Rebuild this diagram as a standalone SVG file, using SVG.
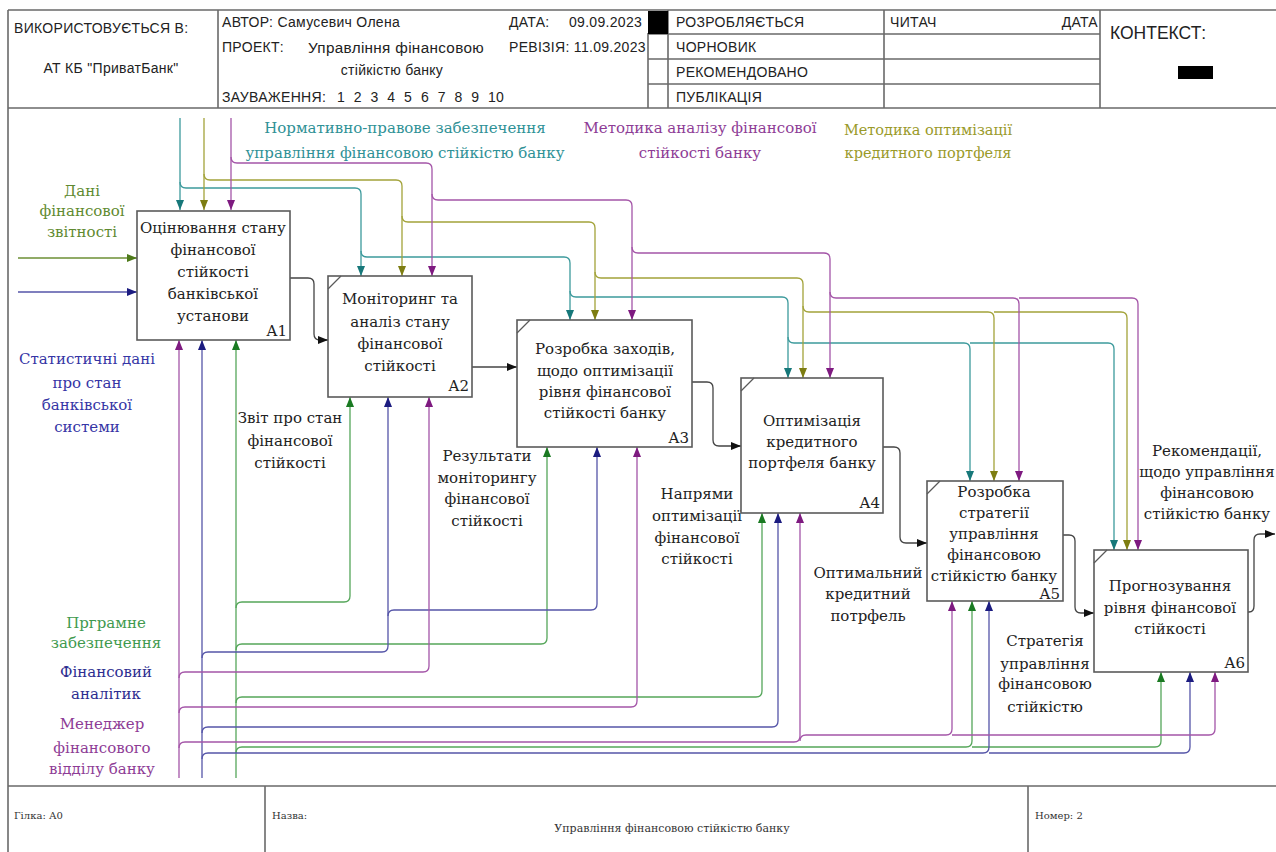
<svg xmlns="http://www.w3.org/2000/svg" width="1276" height="852" viewBox="0 0 1276 852">
<defs>
<style>
.frame{fill:none;stroke:#6a6a6a;stroke-width:1.6}
.hdr{font-family:"Liberation Sans",Arial,sans-serif;font-size:14px;letter-spacing:0.3px;fill:#222}
.ftr{font-family:"DejaVu Serif","Liberation Serif",serif;font-size:10px;fill:#333}
.box{fill:#fff;stroke:#5a5a5a;stroke-width:1.6}
.corner{stroke:#5a5a5a;stroke-width:1.2}
.nt{font-family:"DejaVu Serif","Liberation Serif",serif;font-size:15px;fill:#222;text-anchor:middle}
.nn{font-family:"DejaVu Serif","Liberation Serif",serif;font-size:15px;fill:#222;text-anchor:end}
.lb{font-family:"DejaVu Serif","Liberation Serif",serif;font-size:15px;text-anchor:middle}
.c{fill:none;stroke-width:1.3}
.teal{stroke:#3c9a9c}
.olive{stroke:#a3a33a}
.purp{stroke:#a455a8}
.navy{stroke:#5555a8}
.green{stroke:#55a65a}
.blk{stroke:#444}
.olg{stroke:#6d8f35}
</style>
<marker id="mT" viewBox="0 0 10 8" refX="10" refY="4" markerWidth="10" markerHeight="8" orient="auto" markerUnits="userSpaceOnUse"><path d="M0,0 L10,4 L0,8 z" fill="#17787a"/></marker>
<marker id="mO" viewBox="0 0 10 8" refX="10" refY="4" markerWidth="10" markerHeight="8" orient="auto" markerUnits="userSpaceOnUse"><path d="M0,0 L10,4 L0,8 z" fill="#7d7d12"/></marker>
<marker id="mP" viewBox="0 0 10 8" refX="10" refY="4" markerWidth="10" markerHeight="8" orient="auto" markerUnits="userSpaceOnUse"><path d="M0,0 L10,4 L0,8 z" fill="#7e1a80"/></marker>
<marker id="mN" viewBox="0 0 10 8" refX="10" refY="4" markerWidth="10" markerHeight="8" orient="auto" markerUnits="userSpaceOnUse"><path d="M0,0 L10,4 L0,8 z" fill="#1c1c80"/></marker>
<marker id="mG" viewBox="0 0 10 8" refX="10" refY="4" markerWidth="10" markerHeight="8" orient="auto" markerUnits="userSpaceOnUse"><path d="M0,0 L10,4 L0,8 z" fill="#1a7a22"/></marker>
<marker id="mB" viewBox="0 0 10 8" refX="10" refY="4" markerWidth="10" markerHeight="8" orient="auto" markerUnits="userSpaceOnUse"><path d="M0,0 L10,4 L0,8 z" fill="#111"/></marker>
<marker id="mL" viewBox="0 0 10 8" refX="10" refY="4" markerWidth="10" markerHeight="8" orient="auto" markerUnits="userSpaceOnUse"><path d="M0,0 L10,4 L0,8 z" fill="#4e7a1a"/></marker>
</defs>
<rect width="1276" height="852" fill="#fff"/>

<g id="header">
<path class="frame" d="M8,10 H1276 M8,10 V852 M8,108 H1276 M218,10 V108 M668,10 V108 M648,33 V108 M884,10 V108 M1100,10 V108 M648,34 H1100 M648,59 H1100 M648,84 H1100"/>
<rect x="648" y="11" width="20" height="23" fill="#000"/>
<rect x="1178" y="66" width="35" height="13" fill="#000"/>
<text class="hdr" x="14" y="33">ВИКОРИСТОВУЄТЬСЯ В:</text>
<text class="hdr" x="111" y="73" text-anchor="middle">АТ КБ "ПриватБанк"</text>
<text class="hdr" x="222" y="27">АВТОР: Самусевич Олена</text>
<text class="hdr" x="222" y="52">ПРОЕКТ:</text>
<text class="hdr" x="396" y="53" text-anchor="middle" textLength="176" lengthAdjust="spacingAndGlyphs">Управління фінансовою</text>
<text class="hdr" x="392" y="75" text-anchor="middle">стійкістю банку</text>
<text class="hdr" x="222" y="102">ЗАУВАЖЕННЯ:</text>
<text class="hdr" x="337" y="102" style="word-spacing:4.5px">1 2 3 4 5 6 7 8 9 10</text>
<text class="hdr" x="509" y="27">ДАТА:</text>
<text class="hdr" x="569" y="27">09.09.2023</text>
<text class="hdr" x="509" y="52">РЕВІЗІЯ: 11.09.2023</text>
<text class="hdr" x="676" y="27">РОЗРОБЛЯЄТЬСЯ</text>
<text class="hdr" x="676" y="52">ЧОРНОВИК</text>
<text class="hdr" x="676" y="77">РЕКОМЕНДОВАНО</text>
<text class="hdr" x="676" y="102">ПУБЛІКАЦІЯ</text>
<text class="hdr" x="890" y="27">ЧИТАЧ</text>
<text class="hdr" x="1098" y="27" text-anchor="end">ДАТА</text>
<text class="hdr" x="1110" y="39" style="font-size:17.5px;letter-spacing:0">КОНТЕКСТ:</text>
</g>

<g id="footer">
<path class="frame" d="M8,786 H1276 M265,786 V852 M1028,786 V852"/>
<text class="ftr" x="14" y="819">Гілка:  А0</text>
<text class="ftr" x="272" y="819">Назва:</text>
<text class="ftr" x="672" y="832" text-anchor="middle" style="font-size:11px">Управління фінансовою стійкістю банку</text>
<text class="ftr" x="1035" y="819">Номер: 2</text>
</g>

<g id="connectors">
<path class="c teal" marker-end="url(#mT)" d="M180,118 V210"/>
<path class="c teal" marker-end="url(#mT)" d="M180,182 Q180,188 186,188 H355 Q361,188 361,194 V276"/>
<path class="c teal" marker-end="url(#mT)" d="M361,251 Q361,257 367,257 H564 Q570,257 570,263 V320"/>
<path class="c teal" marker-end="url(#mT)" d="M570,291 Q570,297 576,297 H782 Q788,297 788,303 V378"/>
<path class="c teal" marker-end="url(#mT)" d="M788,337 Q788,343 794,343 H964 Q970,343 970,349 V481"/>
<path class="c teal" marker-end="url(#mT)" d="M970,343 H1108 Q1114,343 1114,349 V550"/>
<path class="c olive" marker-end="url(#mO)" d="M204,118 V210"/>
<path class="c olive" marker-end="url(#mO)" d="M204,174 Q204,180 210,180 H396 Q402,180 402,186 V276"/>
<path class="c olive" marker-end="url(#mO)" d="M402,216 Q402,222 408,222 H589 Q595,222 595,228 V320"/>
<path class="c olive" marker-end="url(#mO)" d="M595,272 Q595,278 601,278 H797 Q803,278 803,284 V378"/>
<path class="c olive" marker-end="url(#mO)" d="M803,306 Q803,312 809,312 H988 Q994,312 994,318 V481"/>
<path class="c olive" marker-end="url(#mO)" d="M994,312 H1121 Q1127,312 1127,318 V550"/>
<path class="c purp" marker-end="url(#mP)" d="M231,118 V210"/>
<path class="c purp" marker-end="url(#mP)" d="M231,157 Q231,163 237,163 H426 Q432,163 432,169 V276"/>
<path class="c purp" marker-end="url(#mP)" d="M432,194 Q432,200 438,200 H626 Q632,200 632,206 V320"/>
<path class="c purp" marker-end="url(#mP)" d="M632,247 Q632,253 638,253 H824 Q830,253 830,259 V378"/>
<path class="c purp" marker-end="url(#mP)" d="M830,292 Q830,298 836,298 H1013 Q1019,298 1019,304 V481"/>
<path class="c purp" marker-end="url(#mP)" d="M1019,298 H1132 Q1138,298 1138,304 V550"/>
<path class="c olg" marker-end="url(#mL)" d="M18,258 H137"/>
<path class="c navy" marker-end="url(#mN)" d="M18,292 H137"/>
<path class="c green" marker-end="url(#mG)" d="M236,778 V340"/>
<path class="c green" marker-end="url(#mG)" d="M236,608 Q236,602 242,602 H344 Q350,602 350,596 V397"/>
<path class="c green" marker-end="url(#mG)" d="M236,650 Q236,644 242,644 H541 Q547,644 547,638 V447"/>
<path class="c green" marker-end="url(#mG)" d="M236,703 Q236,697 242,697 H756 Q762,697 762,691 V513"/>
<path class="c green" marker-end="url(#mG)" d="M236,753 Q236,747 242,747 H966 Q972,747 972,741 V601"/>
<path class="c green" marker-end="url(#mG)" d="M972,747 H1155 Q1161,747 1161,741 V672"/>
<path class="c navy" marker-end="url(#mN)" d="M202,778 V340"/>
<path class="c navy" marker-end="url(#mN)" d="M202,658 Q202,652 208,652 H382 Q388,652 388,646 V397"/>
<path class="c navy" marker-end="url(#mN)" d="M388,616 Q388,610 394,610 H591 Q597,610 597,604 V447"/>
<path class="c navy" marker-end="url(#mN)" d="M202,733 Q202,727 208,727 H772 Q778,727 778,721 V513"/>
<path class="c navy" marker-end="url(#mN)" d="M202,759 Q202,753 208,753 H983 Q989,753 989,747 V601"/>
<path class="c navy" marker-end="url(#mN)" d="M989,753 H1184 Q1190,753 1190,747 V672"/>
<path class="c purp" marker-end="url(#mP)" d="M179,778 V340"/>
<path class="c purp" marker-end="url(#mP)" d="M179,678 Q179,672 185,672 H423 Q429,672 429,666 V397"/>
<path class="c purp" marker-end="url(#mP)" d="M179,713 Q179,707 185,707 H631 Q637,707 637,701 V447"/>
<path class="c purp" marker-end="url(#mP)" d="M179,748 Q179,742 185,742 H794 Q800,742 800,736 V513"/>
<path class="c purp" marker-end="url(#mP)" d="M800,741 Q800,735 806,735 H946 Q952,735 952,729 V601"/>
<path class="c purp" marker-end="url(#mP)" d="M952,735 H1209 Q1215,735 1215,729 V672"/>
<path class="c blk" marker-end="url(#mB)" d="M290,278 H308 Q314,278 314,284 V334 Q314,340 320,340 H328"/>
<path class="c blk" marker-end="url(#mB)" d="M472,367 H517"/>
<path class="c blk" marker-end="url(#mB)" d="M692,382 H707 Q713,382 713,388 V440 Q713,446 719,446 H741"/>
<path class="c blk" marker-end="url(#mB)" d="M883,447 H894 Q900,447 900,453 V537 Q900,543 906,543 H927"/>
<path class="c blk" marker-end="url(#mB)" d="M1063,535 H1069 Q1075,535 1075,541 V607 Q1075,613 1081,613 H1094"/>
<path class="c blk" marker-end="url(#mB)" d="M1248,612 H1249 Q1254,612 1254,606 V540 Q1254,534 1260,534 H1275"/>
</g>

<g id="connector-labels">
<text class="lb" x="405" y="133" fill="#2f9196">Нормативно-правове забезпечення</text>
<text class="lb" x="405" y="158" fill="#2f9196">управління фінансовою стійкістю банку</text>
<text class="lb" x="700" y="133" fill="#8e3c96">Методика аналізу фінансової</text>
<text class="lb" x="700" y="158" fill="#8e3c96">стійкості банку</text>
<text class="lb" x="928" y="135" fill="#9a9a2a" style="font-size:14.5px">Методика оптимізації</text>
<text class="lb" x="928" y="158" fill="#9a9a2a" style="font-size:14.5px">кредитного портфеля</text>
<text class="lb" x="82" y="196" fill="#5f8a30">Дані</text>
<text class="lb" x="82" y="216" fill="#5f8a30">фінансової</text>
<text class="lb" x="82" y="237" fill="#5f8a30">звітності</text>
<text class="lb" x="87" y="364" fill="#3535a5">Статистичні дані</text>
<text class="lb" x="87" y="388" fill="#3535a5">про стан</text>
<text class="lb" x="87" y="410" fill="#3535a5">банківської</text>
<text class="lb" x="87" y="432" fill="#3535a5">системи</text>
<text class="lb" x="106" y="628" fill="#3f9a4f">Прграмне</text>
<text class="lb" x="106" y="648" fill="#3f9a4f">забезпечення</text>
<text class="lb" x="106" y="677" fill="#2d2d90">Фінансовий</text>
<text class="lb" x="106" y="699" fill="#2d2d90">аналітик</text>
<text class="lb" x="102" y="729" fill="#8e3c96">Менеджер</text>
<text class="lb" x="102" y="753" fill="#8e3c96">фінансового</text>
<text class="lb" x="102" y="774" fill="#8e3c96">відділу банку</text>
<text class="lb" x="290" y="423" fill="#222">Звіт про стан</text>
<text class="lb" x="290" y="446" fill="#222">фінансової</text>
<text class="lb" x="290" y="468" fill="#222">стійкості</text>
<text class="lb" x="487" y="461" fill="#222">Результати</text>
<text class="lb" x="487" y="483" fill="#222">моніторингу</text>
<text class="lb" x="487" y="504" fill="#222">фінансової</text>
<text class="lb" x="487" y="526" fill="#222">стійкості</text>
<text class="lb" x="697" y="499" fill="#222">Напрями</text>
<text class="lb" x="697" y="521" fill="#222">оптимізації</text>
<text class="lb" x="697" y="543" fill="#222">фінансової</text>
<text class="lb" x="697" y="564" fill="#222">стійкості</text>
<text class="lb" x="868" y="578" fill="#222">Оптимальний</text>
<text class="lb" x="868" y="599" fill="#222">кредитний</text>
<text class="lb" x="868" y="621" fill="#222">потрфель</text>
<text class="lb" x="1045" y="646" fill="#222">Стратегія</text>
<text class="lb" x="1045" y="669" fill="#222">управління</text>
<text class="lb" x="1045" y="689" fill="#222">фінансовою</text>
<text class="lb" x="1045" y="712" fill="#222">стійкістю</text>
<text class="lb" x="1207" y="456" fill="#222">Рекомендації,</text>
<text class="lb" x="1207" y="477" fill="#222">щодо управління</text>
<text class="lb" x="1207" y="498" fill="#222">фінансовою</text>
<text class="lb" x="1207" y="519" fill="#222">стійкістю банку</text>
</g>

<g id="A1">
<rect class="box" x="137" y="211" width="153" height="129"/>
<text class="nt" x="213" y="233">Оцінювання стану</text>
<text class="nt" x="213" y="255">фінансової</text>
<text class="nt" x="213" y="277">стійкості</text>
<text class="nt" x="213" y="299">банківської</text>
<text class="nt" x="213" y="321">установи</text>
<text class="nn" x="287" y="336">A1</text>
</g>
<g id="A2">
<rect class="box" x="328" y="276" width="144" height="121"/>
<line class="corner" x1="328" y1="289" x2="341" y2="276"/>
<text class="nt" x="400" y="304">Моніторинг та</text>
<text class="nt" x="400" y="327">аналіз стану</text>
<text class="nt" x="400" y="349">фінансової</text>
<text class="nt" x="400" y="371">стійкості</text>
<text class="nn" x="469" y="391">A2</text>
</g>
<g id="A3">
<rect class="box" x="517" y="320" width="175" height="127"/>
<line class="corner" x1="517" y1="333" x2="530" y2="320"/>
<text class="nt" x="605" y="354">Розробка заходів,</text>
<text class="nt" x="605" y="376">щодо оптимізації</text>
<text class="nt" x="605" y="397">рівня фінансової</text>
<text class="nt" x="605" y="418">стійкості банку</text>
<text class="nn" x="689" y="443">A3</text>
</g>
<g id="A4">
<rect class="box" x="741" y="378" width="142" height="135"/>
<line class="corner" x1="741" y1="391" x2="754" y2="378"/>
<text class="nt" x="812" y="426">Оптимізація</text>
<text class="nt" x="812" y="447">кредитного</text>
<text class="nt" x="812" y="468">портфеля банку</text>
<text class="nn" x="880" y="508">A4</text>
</g>
<g id="A5">
<rect class="box" x="927" y="481" width="136" height="120"/>
<line class="corner" x1="927" y1="494" x2="940" y2="481"/>
<text class="nt" x="994" y="497">Розробка</text>
<text class="nt" x="994" y="518">стратегії</text>
<text class="nt" x="994" y="539">управління</text>
<text class="nt" x="994" y="560">фінансовою</text>
<text class="nt" x="994" y="581">стійкістю банку</text>
<text class="nn" x="1060" y="599">A5</text>
</g>
<g id="A6">
<rect class="box" x="1094" y="550" width="154" height="122"/>
<line class="corner" x1="1094" y1="563" x2="1107" y2="550"/>
<text class="nt" x="1170" y="591">Прогнозування</text>
<text class="nt" x="1170" y="613">рівня фінансової</text>
<text class="nt" x="1170" y="634">стійкості</text>
<text class="nn" x="1245" y="668">A6</text>
</g>
</svg>
